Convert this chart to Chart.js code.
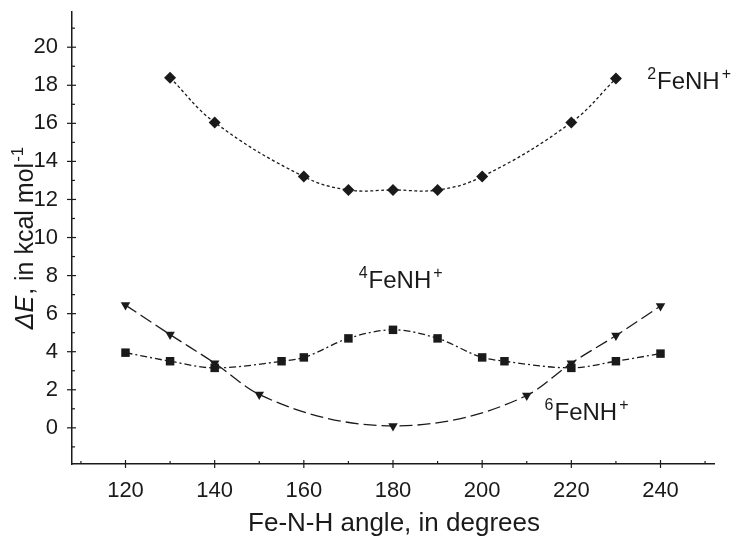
<!DOCTYPE html>
<html>
<head>
<meta charset="utf-8">
<title>FeNH+ bending curves</title>
<script src="https://cdn.jsdelivr.net/npm/chart.js@4.4.1/dist/chart.umd.min.js"></script>
<style>
  html, body { margin: 0; padding: 0; background: #fff; }
  #wrap { width: 736px; height: 537px; }
</style>
</head>
<body>
<div id="wrap"><canvas id="myChart"></canvas></div>
<script>
// values (Fe-N-H angle in degrees, dE in kcal/mol)
const angles2 = [130, 140, 160, 170, 180, 190, 200, 220, 230];
const energy2 = [18.4, 16.05, 13.2, 12.5, 12.5, 12.5, 13.2, 16.05, 18.35];

const angles4 = [120, 130, 140, 155, 160, 170, 180, 190, 200, 205, 220, 230, 240];
const energy4 = [3.95, 3.5, 3.15, 3.5, 3.7, 4.7, 5.15, 4.7, 3.7, 3.5, 3.15, 3.5, 3.9];

const angles6 = [120, 130, 140, 150, 180, 210, 220, 230, 240];
const energy6 = [6.45, 4.9, 3.4, 1.75, 0.1, 1.7, 3.4, 4.85, 6.4];

const xTicks = [120, 140, 160, 180, 200, 220, 240];
const yTicks = [0, 2, 4, 6, 8, 10, 12, 14, 16, 18, 20];

const INK = '#1a1a1a';
const FONT = '"Liberation Sans", Arial, sans-serif';

function pts(xs, ys) {
    return xs.map((x, i) => ({ x: x, y: ys[i] }));
}

// write "^{pre}main^{post}" starting at x, baseline y
function supText(ctx, x, y, pre, main, post, size) {
    const small = Math.round(size * 0.68);
    ctx.textBaseline = 'alphabetic';
    ctx.textAlign = 'left';
    ctx.font = small + 'px ' + FONT;
    ctx.fillText(pre, x, y - size * 0.42);
    x += ctx.measureText(pre).width + 1;
    ctx.font = size + 'px ' + FONT;
    ctx.fillText(main, x, y);
    x += ctx.measureText(main).width + 2;
    ctx.font = small + 'px ' + FONT;
    ctx.fillText(post, x, y - size * 0.42);
}

const decor = {
    id: 'decor',
    afterDraw(chart) {
        const ctx = chart.ctx;
        const x = chart.scales.x;
        const y = chart.scales.y;
        const area = chart.chartArea;
        ctx.save();
        ctx.strokeStyle = INK;
        ctx.fillStyle = INK;
        ctx.lineWidth = 1.2;

        // tick marks crossing the axes, minor ones in between
        for (let v = 110; v <= 250; v += 10) {
            const px = x.getPixelForValue(v);
            const major = v % 20 === 0;
            ctx.beginPath();
            ctx.moveTo(px, area.bottom - (major ? 4 : 3));
            ctx.lineTo(px, area.bottom + (major ? 4 : 0));
            ctx.stroke();
        }
        for (let v = -1; v <= 21; v += 1) {
            const py = y.getPixelForValue(v);
            const major = v % 2 === 0;
            ctx.beginPath();
            ctx.moveTo(area.left - (major ? 5 : 0), py);
            ctx.lineTo(area.left + (major ? 4 : 3), py);
            ctx.stroke();
        }

        // curve labels
        supText(ctx, x.getPixelForValue(237), y.getPixelForValue(17.8), '2', 'FeNH', '+', 24);
        supText(ctx, x.getPixelForValue(172.3), y.getPixelForValue(7.35), '4', 'FeNH', '+', 24);
        supText(ctx, x.getPixelForValue(214), y.getPixelForValue(0.42), '6', 'FeNH', '+', 24);

        // x axis title
        ctx.font = '26px ' + FONT;
        ctx.textAlign = 'center';
        ctx.textBaseline = 'alphabetic';
        ctx.fillText('Fe-N-H angle, in degrees', (area.left + area.right) / 2 + 1, 531);

        // y axis title, rotated
        const size = 25;
        const small = 17;
        const parts = [
            { t: '\u0394E', f: 'italic ' + size + 'px ' + FONT, dy: 0 },
            { t: ', in kcal mol', f: size + 'px ' + FONT, dy: 0 },
            { t: '-1', f: small + 'px ' + FONT, dy: -size * 0.42 }
        ];
        let w = 0;
        parts.forEach(p => { ctx.font = p.f; p.w = ctx.measureText(p.t).width; w += p.w; });
        ctx.translate(33, 239);
        ctx.rotate(-Math.PI / 2);
        ctx.textAlign = 'left';
        let cx = -w / 2;
        parts.forEach(p => {
            ctx.font = p.f;
            ctx.fillText(p.t, cx, p.dy);
            cx += p.w + (p.t === '-1' ? 0 : 1);
        });
        ctx.restore();
    }
};

const chart = new Chart(
    document.getElementById('myChart'),
    {
        type: 'scatter',
        data: {
            datasets: [
                {
                    label: '2FeNH+',
                    data: pts(angles2, energy2),
                    showLine: true,
                    borderDash: [3, 2.5],
                    cubicInterpolationMode: 'default',
                    tension: 0.4,
                    pointStyle: 'rectRot',
                    pointRadius: 6,
                },
                {
                    label: '4FeNH+',
                    data: pts(angles4, energy4),
                    showLine: true,
                    borderDash: [7, 3, 2, 3],
                    pointStyle: 'rect',
                    pointRadius: 6,
                },
                {
                    label: '6FeNH+',
                    data: pts(angles6, energy6),
                    showLine: true,
                    borderDash: [13, 5],
                    pointStyle: 'triangle',
                    pointRotation: 180,
                    pointRadius: 5.5,
                }
            ]
        },
        options: {
            responsive: true,
            maintainAspectRatio: false,
            animation: false,
            events: [],
            layout: { padding: { top: 12, right: 22, left: 0, bottom: 0 } },
            elements: {
                line: {
                    borderColor: INK,
                    borderWidth: 1.3,
                    cubicInterpolationMode: 'monotone',
                    fill: false
                },
                point: {
                    backgroundColor: INK,
                    borderColor: INK,
                    borderWidth: 0
                }
            },
            plugins: {
                legend: { display: false },
                tooltip: { enabled: false }
            },
            scales: {
                x: {
                    type: 'linear',
                    min: 108,
                    max: 252,
                    afterBuildTicks: s => { s.ticks = xTicks.map(v => ({ value: v })); },
                    afterFit: s => { s.height = 73; s.paddingLeft = 0; s.paddingRight = 0; },
                    grid: { display: false, drawTicks: false },
                    border: { display: true, color: INK, width: 1.5 },
                    ticks: {
                        color: INK,
                        padding: 14,
                        maxRotation: 0,
                        font: { family: FONT, size: 22 }
                    }
                },
                y: {
                    type: 'linear',
                    min: -1.9,
                    max: 21.85,
                    afterBuildTicks: s => { s.ticks = yTicks.map(v => ({ value: v })); },
                    afterFit: s => { s.width = 72; s.paddingTop = 0; s.paddingBottom = 0; },
                    grid: { display: false, drawTicks: false },
                    border: { display: true, color: INK, width: 1.5 },
                    ticks: {
                        color: INK,
                        padding: 14,
                        font: { family: FONT, size: 22 }
                    }
                }
            }
        },
        plugins: [decor]
    }
);
</script>
</body>
</html>
